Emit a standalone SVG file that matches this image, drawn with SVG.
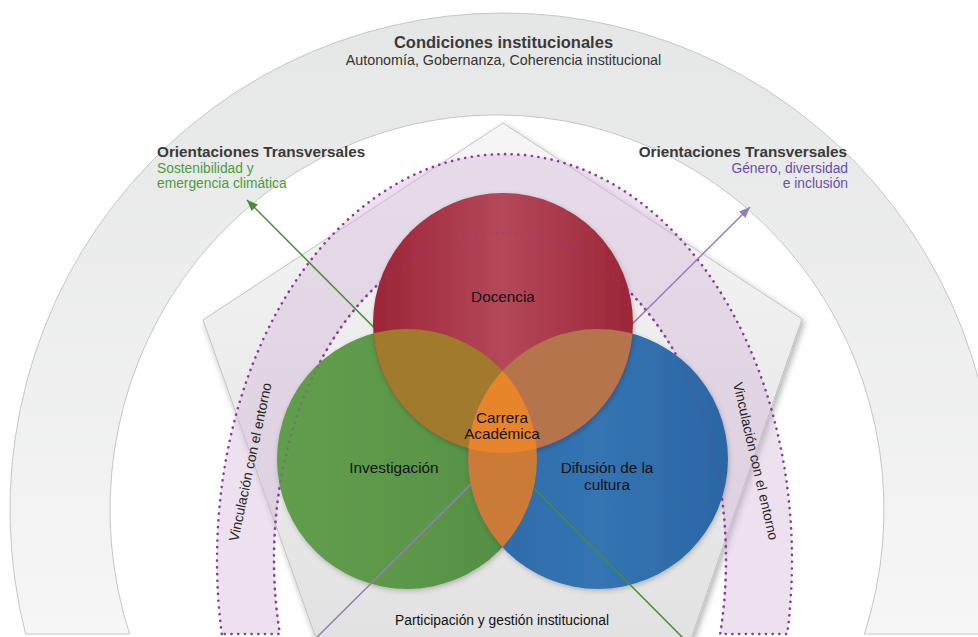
<svg xmlns="http://www.w3.org/2000/svg" width="978" height="637" viewBox="0 0 978 637">
  <defs>
    <style>
      text { font-family: "Liberation Sans", Arial, Helvetica, sans-serif; }
      .title { font-weight: bold; fill: #3a3a3a; }
      .sub { fill: #333333; }
      .lbl { fill: #111111; font-size: 15.3px; text-anchor: middle; }
      .vinc { fill: #222222; font-size: 13.8px; text-anchor: middle; }
      .dots { fill: none; stroke: #8b3a9c; stroke-width: 2.6; stroke-linecap: round; stroke-dasharray: 0.1 6.6; }
      .band { stroke: #c6c6c6; stroke-width: 1; }
    </style>
    <linearGradient id="gBand" gradientUnits="userSpaceOnUse" x1="0" y1="13" x2="0" y2="634">
      <stop offset="0" stop-color="#e5e6e6"/>
      <stop offset="1" stop-color="#f6f6f6"/>
    </linearGradient>
    <linearGradient id="gPent" gradientUnits="userSpaceOnUse" x1="0" y1="123" x2="0" y2="637">
      <stop offset="0" stop-color="#f6f6f6"/>
      <stop offset="1" stop-color="#e2e2e2"/>
    </linearGradient>
    <linearGradient id="gRed" x1="0" y1="0" x2="1" y2="0">
      <stop offset="0" stop-color="#9c2537"/>
      <stop offset="0.5" stop-color="#b4485a"/>
      <stop offset="1" stop-color="#9c2537"/>
    </linearGradient>
    <linearGradient id="gGreen" x1="0" y1="0" x2="1" y2="0">
      <stop offset="0" stop-color="#609e4d"/>
      <stop offset="0.6" stop-color="#5a9648"/>
      <stop offset="1" stop-color="#518b40"/>
    </linearGradient>
    <linearGradient id="gBlue" x1="0" y1="0" x2="1" y2="0">
      <stop offset="0" stop-color="#2c69a8"/>
      <stop offset="0.5" stop-color="#3474b2"/>
      <stop offset="1" stop-color="#2b67a4"/>
    </linearGradient>
    <filter id="shadow" x="-10%" y="-10%" width="120%" height="120%">
      <feDropShadow dx="2" dy="3" stdDeviation="3" flood-color="#000000" flood-opacity="0.3"/>
    </filter>
    <filter id="soft" x="-10%" y="-10%" width="120%" height="120%">
      <feDropShadow dx="1" dy="2" stdDeviation="2.5" flood-color="#000000" flood-opacity="0.22"/>
    </filter>
    <clipPath id="cRed"><circle cx="503" cy="323" r="130"/></clipPath>
    <clipPath id="cGreen"><circle cx="407" cy="459" r="130"/></clipPath>
    <clipPath id="cBlue"><circle cx="598" cy="459" r="130"/></clipPath>
    <marker id="arrG" markerUnits="userSpaceOnUse" markerWidth="12" markerHeight="10" refX="11" refY="4.5" orient="auto">
      <path d="M0,0 L11,4.5 L0,9 Z" fill="#4a8b3a"/>
    </marker>
    <marker id="arrP" markerUnits="userSpaceOnUse" markerWidth="12" markerHeight="10" refX="11" refY="4.5" orient="auto">
      <path d="M0,0 L11,4.5 L0,9 Z" fill="#9b7bbd"/>
    </marker>
  </defs>

  <rect x="0" y="0" width="978" height="637" fill="#ffffff"/>

  <g id="condiciones">
    <path class="band" fill="url(#gBand)" d="M25.6,634 A493,497 0 1 1 980.4,634 L864.4,634 A387,395 0 1 0 129.6,634 Z"/>
    <text class="title" x="503.5" y="48" font-size="16.5" text-anchor="middle">Condiciones institucionales</text>
    <text class="sub" x="503.5" y="65" font-size="14.3" text-anchor="middle">Autonomía, Gobernanza, Coherencia institucional</text>
  </g>

  <g id="participacion">
    <path d="M503,123 L802,319 L656,740 L352,740 L203,320 Z" fill="url(#gPent)" stroke="#c2c2c2" stroke-width="1" filter="url(#shadow)"/>
    <text x="502" y="625" font-size="13.8" fill="#111111" text-anchor="middle">Participación y gestión institucional</text>
  </g>

  <g id="vinculacion">
    <path d="M221.8,634 A287.5,406 0 1 1 787.2,634 L720.1,634 A226,327 0 1 0 279.9,634 Z" fill="#d2b2d6" fill-opacity="0.4"/>
    <path class="dots" d="M221.8,634 A287.5,406 0 1 1 787.2,634 L720.1,634 A226,327 0 1 0 279.9,634 Z"/>
    <text class="vinc" transform="translate(250,462) rotate(-78)" x="0" y="5">Vinculación con el entorno</text>
    <text class="vinc" transform="translate(756,461) rotate(77)" x="0" y="5">Vinculación con el entorno</text>
  </g>

  <g id="investigacion" filter="url(#soft)">
    <circle cx="407" cy="459" r="130" fill="url(#gGreen)"/>
  </g>
  <g id="difusion" filter="url(#soft)">
    <circle cx="598" cy="459" r="130" fill="url(#gBlue)"/>
  </g>

  <g id="connectors" fill="none" stroke-width="1.5">
    <path d="M700,655 L247,200" stroke="#4a8b3a" marker-end="url(#arrG)"/>
    <path d="M300,654 L750,207" stroke="#9b7bbd" marker-end="url(#arrP)"/>
  </g>

  <g id="docencia" filter="url(#soft)">
    <circle cx="503" cy="323" r="130" fill="url(#gRed)"/>
  </g>

  <g id="carrera">
    <g clip-path="url(#cRed)"><circle cx="407" cy="459" r="130" fill="#a17a2c"/></g>
    <g clip-path="url(#cRed)"><circle cx="598" cy="459" r="130" fill="#b5744b"/></g>
    <g clip-path="url(#cGreen)"><circle cx="598" cy="459" r="130" fill="#cb7a38"/></g>
    <g clip-path="url(#cBlue)"><g clip-path="url(#cGreen)"><circle cx="503" cy="323" r="130" fill="#e8842a"/></g></g>
  </g>

  <g id="vinculacion-overlay" opacity="0.35">
    <path class="dots" d="M720.1,634 A226,327 0 1 0 279.9,634"/>
  </g>

  <g id="labels">
    <text class="lbl" x="503" y="302">Docencia</text>
    <text class="lbl" x="394" y="473">Investigación</text>
    <text class="lbl" x="607" y="473">Difusión de la</text>
    <text class="lbl" x="607" y="490">cultura</text>
    <text class="lbl" x="502" y="423">Carrera</text>
    <text class="lbl" x="502" y="439">Académica</text>
  </g>

  <g id="orientacion-sostenibilidad">
    <text class="title" x="157" y="157" font-size="15.3">Orientaciones Transversales</text>
    <text x="157" y="173" font-size="13.8" fill="#4e9a3d">Sostenibilidad y</text>
    <text x="157" y="188" font-size="13.8" fill="#4e9a3d">emergencia climática</text>
  </g>

  <g id="orientacion-genero">
    <text class="title" x="847" y="157" font-size="15.3" text-anchor="end">Orientaciones Transversales</text>
    <text x="848" y="173" font-size="13.8" fill="#6a4fa8" text-anchor="end">Género, diversidad</text>
    <text x="848" y="188" font-size="13.8" fill="#6a4fa8" text-anchor="end">e inclusión</text>
  </g>
</svg>
